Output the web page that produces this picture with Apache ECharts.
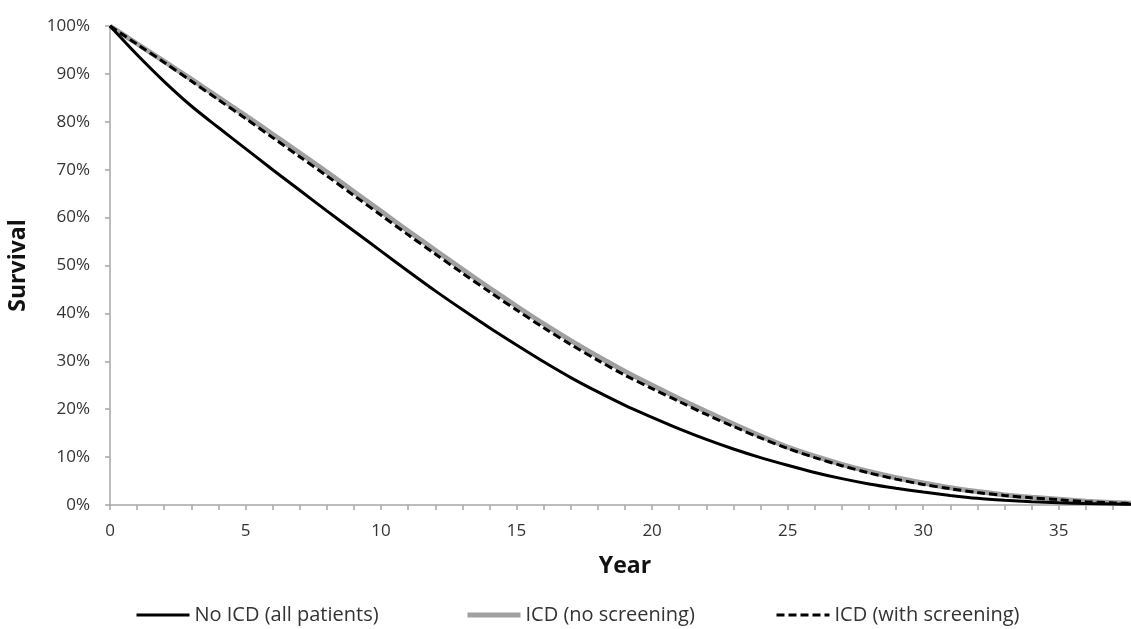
<!DOCTYPE html>
<html>
<head>
<meta charset="utf-8">
<script src="https://cdn.jsdelivr.net/npm/echarts@6/dist/echarts.min.js"></script>
<style>
html,body{margin:0;padding:0;background:#fff;}
#chart{width:1131px;height:629px;}
</style>
</head>
<body>
<div id="chart"></div>
<script>
const years = [0,1,2,3,4,5,6,7,8,9,10,11,12,13,14,15,16,17,18,19,20,21,22,23,24,25,26,27,28,29,30,31,32,33,34,35,36,37,38];
const noIcd = [100,94.0,88.4,83.3,78.8,74.4,70.0,65.7,61.4,57.2,53.0,48.8,44.7,40.8,37.0,33.4,29.9,26.6,23.6,20.8,18.3,15.9,13.7,11.7,9.9,8.3,6.8,5.5,4.4,3.5,2.7,2.0,1.4,1.0,0.7,0.45,0.3,0.2,0.1];
const icdNoScreen = [100,96.3,92.6,88.9,85.1,81.3,77.4,73.5,69.5,65.4,61.3,57.2,53.2,49.2,45.3,41.5,37.8,34.3,31.0,27.9,25.0,22.2,19.5,16.9,14.4,12.1,10.2,8.5,7.0,5.7,4.6,3.6,2.8,2.1,1.6,1.2,0.8,0.5,0.3];
const icdScreen = [100,96.2,92.4,88.5,84.6,80.7,76.7,72.7,68.7,64.6,60.5,56.4,52.4,48.4,44.5,40.7,37.0,33.5,30.2,27.1,24.3,21.6,18.9,16.4,14.0,11.8,9.9,8.2,6.7,5.4,4.3,3.4,2.6,2.0,1.5,1.1,0.7,0.45,0.25];
const yTicks = [0,10,20,30,40,50,60,70,80,90,100];
const seriesNames = ['No ICD (all patients)','ICD (no screening)','ICD (with screening)'];

const pair = (arr) => years.map((y,i)=>[y, arr[i]]);
const font = 'Open Sans';
const axisCol = '#a6a6a6';
const txtCol = '#333333';
const legendLeft = [130, 460, 770];
const legendWidths = [3, 5, 3];

const chart = echarts.init(document.getElementById('chart'), null, {renderer:'canvas'});
chart.setOption({
  animation:false,
  backgroundColor:'#fff',
  textStyle:{fontFamily:font},
  grid:{left:110, top:26, height:479, width:1030, containLabel:false, outerBoundsMode:'none'},
  xAxis:{
    type:'value', min:0, max:38, interval:1,
    name:'Year', nameLocation:'middle', nameGap:50,
    nameTextStyle:{fontFamily:font, fontSize:23, fontWeight:'bold', color:'#111'},
    axisLine:{show:true, lineStyle:{color:axisCol, width:1.5}},
    axisTick:{show:true, length:5, lineStyle:{color:axisCol, width:1.5}},
    axisLabel:{margin:18, fontSize:17, color:txtCol, fontFamily:font,
      formatter:(v)=> (Math.abs(v - Math.round(v))<1e-6 && Math.round(v)%5===0) ? String(Math.round(v)) : ''},
    splitLine:{show:false}
  },
  yAxis:{
    type:'value', min:yTicks[0], max:yTicks[yTicks.length-1], interval:yTicks[1]-yTicks[0],
    name:'Survival', nameLocation:'middle', nameGap:80,
    nameTextStyle:{fontFamily:font, fontSize:23, fontWeight:'bold', color:'#111'},
    axisLine:{show:true, lineStyle:{color:axisCol, width:1.5}},
    axisTick:{show:true, length:5, lineStyle:{color:axisCol, width:1.5}},
    axisLabel:{margin:20, fontSize:17, color:txtCol, fontFamily:font, formatter:'{value}%'},
    splitLine:{show:false}
  },
  legend: seriesNames.map((n,i)=>({
    left:legendLeft[i], top:600, itemWidth:53, itemHeight:14, itemGap:0,
    itemStyle:{opacity:0},
    lineStyle:{width:legendWidths[i]},
    textStyle:{fontFamily:font, fontSize:20, color:txtCol},
    data:[n]
  })),
  series:[
    {name:seriesNames[0], type:'line', data:pair(noIcd), showSymbol:false, symbol:'none', smooth:0.3,
     lineStyle:{color:'#000', width:3}, itemStyle:{color:'#000'}, z:3},
    {name:seriesNames[1], type:'line', data:pair(icdNoScreen), showSymbol:false, symbol:'none', smooth:0.3,
     lineStyle:{color:'#a0a0a0', width:5}, itemStyle:{color:'#a0a0a0'}, z:2},
    {name:seriesNames[2], type:'line', data:pair(icdScreen), showSymbol:false, symbol:'none', smooth:0.3,
     lineStyle:{color:'#000', width:3, type:[8,4]}, itemStyle:{color:'#000'}, z:4}
  ]
});
</script>
</body>
</html>
